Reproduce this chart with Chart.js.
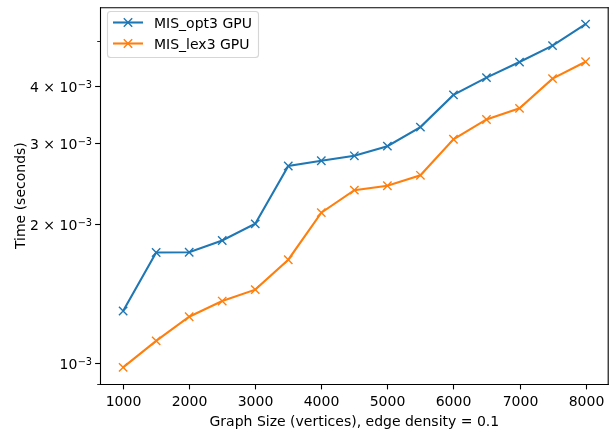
<!DOCTYPE html>
<html>
<head>
<meta charset="utf-8">
<script src="https://cdn.jsdelivr.net/npm/chart.js@4/dist/chart.umd.min.js"></script>
<style>
  html, body { margin: 0; padding: 0; background: #fff; width: 611px; height: 436px; overflow: hidden; }
  canvas { display: block; }
</style>
</head>
<body>
<canvas id="chart" width="616" height="436"></canvas>
<script>
// Graph sizes (vertices) on the x axis
const graphSizes = [1000, 1500, 2000, 2500, 3000, 3500, 4000, 4500, 5000, 5500, 6000, 6500, 7000, 7500, 8000];

// Runtimes in seconds
const misOpt3Gpu = [1.297e-3, 1.738e-3, 1.740e-3, 1.845e-3, 2.006e-3, 2.679e-3, 2.750e-3, 2.819e-3,
                    2.958e-3, 3.254e-3, 3.823e-3, 4.169e-3, 4.506e-3, 4.892e-3, 5.446e-3];
const misLex3Gpu = [0.978e-3, 1.117e-3, 1.260e-3, 1.363e-3, 1.443e-3, 1.676e-3, 2.121e-3, 2.374e-3,
                    2.427e-3, 2.557e-3, 3.062e-3, 3.381e-3, 3.575e-3, 4.148e-3, 4.512e-3];

const seriesLabels = ['MIS_opt3 GPU', 'MIS_lex3 GPU'];
const seriesColors = ['#1f77b4', '#ff7f0e'];

// Axis ticks
const xTickValues = [1000, 2000, 3000, 4000, 5000, 6000, 7000, 8000];
const yMajorValues = [1e-3, 2e-3, 3e-3, 4e-3];
const yMajorMantissas = ['', '2', '3', '4'];
const yExponent = '\u22123';
const yMinorValues = [0.9e-3, 5e-3];

const xTitle = 'Graph Size (vertices), edge density = 0.1';
const yTitle = 'Time (seconds)';

const FONT = '"DejaVu Sans", sans-serif';

function toPoints(values) {
  return graphSizes.map((g, i) => ({ x: g, y: values[i] }));
}

function drawX(ctx, cx, cy, half, color, width) {
  ctx.save();
  ctx.strokeStyle = color;
  ctx.lineWidth = width;
  ctx.beginPath();
  ctx.moveTo(cx - half, cy - half); ctx.lineTo(cx + half, cy + half);
  ctx.moveTo(cx - half, cy + half); ctx.lineTo(cx + half, cy - half);
  ctx.stroke();
  ctx.restore();
}

// Draws spines, tick marks, tick labels, axis titles and the legend
const axesPlugin = {
  id: 'mplAxes',
  afterDraw(chart) {
    const { ctx, chartArea: a, scales: { x, y } } = chart;
    ctx.save();
    ctx.strokeStyle = '#000';
    ctx.fillStyle = '#000';

    const seg = (x1, y1, x2, y2) => { ctx.beginPath(); ctx.moveTo(x1, y1); ctx.lineTo(x2, y2); ctx.stroke(); };

    // spines
    ctx.lineWidth = 1.1;
    seg(a.left + 0.5, a.top, a.left + 0.5, a.bottom + 1);
    seg(a.left, a.top + 0.5, a.right, a.top + 0.5);
    seg(a.left, a.bottom + 0.5, a.right, a.bottom + 0.5);
    seg(a.right - 0.5, a.top, a.right - 0.5, a.bottom + 1);

    // x ticks + labels
    ctx.font = '14px ' + FONT;
    ctx.textAlign = 'center';
    ctx.textBaseline = 'alphabetic';
    xTickValues.forEach(v => {
      const px = Math.round(x.getPixelForValue(v)) + 0.5;
      ctx.lineWidth = 1.1;
      seg(px, a.bottom + 1, px, a.bottom + 5.4);
      ctx.fillText(String(v), px, a.bottom + 22);
    });

    // y major ticks + labels (mantissa × 10^exp)
    yMajorValues.forEach((v, i) => {
      const py = Math.round(y.getPixelForValue(v)) + 0.5;
      ctx.lineWidth = 1.1;
      seg(a.left - 4.9, py, a.left, py);
      const m = yMajorMantissas[i];
      const base = m ? m + ' \u00d7 10' : '10';
      ctx.font = '14px ' + FONT;
      const wBase = ctx.measureText(base).width;
      ctx.font = '9.8px ' + FONT;
      const wSup = ctx.measureText(yExponent).width;
      const right = a.left - 8.2;
      const start = right - wSup - wBase;
      ctx.textAlign = 'left';
      ctx.font = '14px ' + FONT;
      ctx.fillText(base, start, py + 5.5);
      ctx.font = '9.8px ' + FONT;
      ctx.fillText(yExponent, start + wBase + 0.3, py + 1.3);
    });

    // y minor ticks
    yMinorValues.forEach(v => {
      let py = y.getPixelForValue(v);
      if (py > a.bottom + 1.5 || py < a.top - 1.5) return;
      py = Math.min(Math.round(py), a.bottom) + 0.5;
      ctx.lineWidth = 0.85;
      seg(a.left - 2.8, py, a.left, py);
    });

    // axis titles
    ctx.font = '14px ' + FONT;
    ctx.textAlign = 'center';
    ctx.fillText(xTitle, (a.left + a.right) / 2, 426);
    ctx.save();
    ctx.translate(24.5, (a.top + a.bottom) / 2);
    ctx.rotate(-Math.PI / 2);
    ctx.fillText(yTitle, 0, 0);
    ctx.restore();

    // legend
    const lx = 107.5, ly = 11.5, lw = 151, lh = 46;
    ctx.beginPath();
    ctx.roundRect(lx, ly, lw, lh, 3);
    ctx.fillStyle = 'rgba(255,255,255,0.8)';
    ctx.fill();
    ctx.strokeStyle = 'rgba(204,204,204,0.8)';
    ctx.lineWidth = 1.1;
    ctx.stroke();
    chart.data.datasets.forEach((ds, i) => {
      const cy = 22.5 + i * 21;
      ctx.strokeStyle = ds.borderColor;
      ctx.lineWidth = 2.1;
      seg(113, cy, 143, cy);
      drawX(ctx, 128, cy, 4.2, ds.borderColor, 1.4);
      ctx.fillStyle = '#000';
      ctx.font = '14px ' + FONT;
      ctx.textAlign = 'left';
      ctx.fillText(ds.label, 154, cy + 5.2);
    });

    ctx.restore();
  }
};

new Chart(document.getElementById('chart'), {
  type: 'line',
  data: {
    datasets: [
      { label: seriesLabels[0], data: toPoints(misOpt3Gpu) },
      { label: seriesLabels[1], data: toPoints(misLex3Gpu) }
    ].map((ds, i) => Object.assign(ds, {
      borderColor: seriesColors[i],
      backgroundColor: seriesColors[i],
      borderWidth: 2.1,
      pointStyle: 'crossRot',
      pointRadius: 5.9,
      pointHoverRadius: 5.9,
      pointBorderWidth: 1.4,
      pointBorderColor: seriesColors[i],
      tension: 0,
      fill: false,
      order: 1 - i
    }))
  },
  options: {
    responsive: false,
    devicePixelRatio: 1,
    animation: false,
    events: [],
    layout: { padding: { left: 0, top: 4, right: 4, bottom: 0 } },
    plugins: { legend: { display: false }, tooltip: { enabled: false } },
    scales: {
      x: {
        type: 'linear',
        min: 650,
        max: 8350,
        grid: { display: false },
        border: { display: false },
        ticks: { display: false },
        afterFit(scale) { scale.height = 52; }
      },
      y: {
        type: 'logarithmic',
        min: 0.9e-3,
        max: 5.926e-3,
        grid: { display: false },
        border: { display: false },
        ticks: { display: false },
        afterFit(scale) { scale.width = 100; }
      }
    }
  },
  plugins: [axesPlugin]
});
</script>
</body>
</html>
